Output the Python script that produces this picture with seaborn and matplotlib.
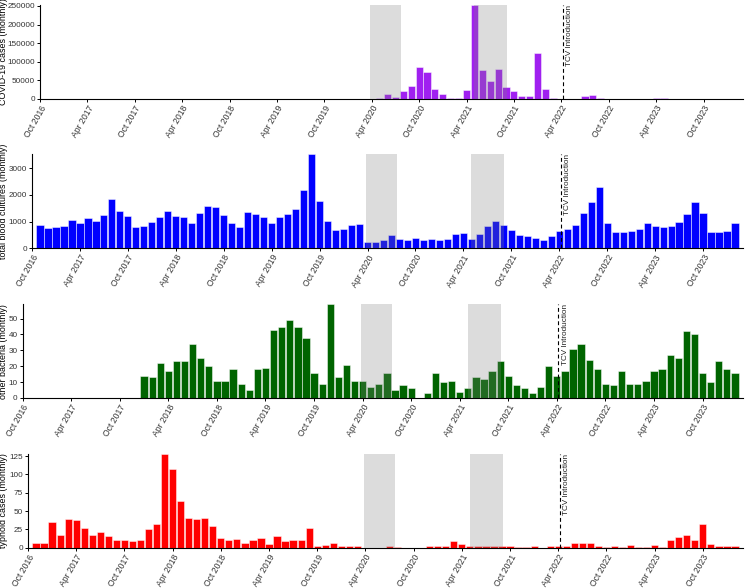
import numpy as np
import pandas as pd
import matplotlib
matplotlib.use("Agg")
import matplotlib.pyplot as plt
import seaborn as sns

# ---------------- data (monthly, Nov 2016 .. Feb 2024) ----------------
months = pd.date_range("2016-11-01", "2024-02-01", freq="MS")

covid = [0] * 41 + [
    50, 1500, 11700, 5400, 20700, 34000, 84500, 73000, 26000,
    12600, 2700, 2700, 23400, 254000, 76400, 46700, 79000, 31500, 20700, 8100, 6300,
    123000, 26000, 1000, 200, 100, 300, 6300, 10000, 2500, 300, 100, 100,
    100, 100, 300, 1200, 600, 200, 100, 100, 100, 100, 50, 50,
    50, 50]

blood = [
    870, 760, 780, 820, 1050, 930, 1140, 1020, 1230, 1830, 1380, 1200, 810, 820,
    980, 1170, 1410, 1210, 1190, 940, 1310, 1580, 1550, 1250, 950, 800,
    1350, 1270, 1170, 940, 1180, 1300, 1490, 2180, 3520, 1780, 1020, 680,
    720, 860, 900,
    250, 240, 300, 500, 360, 310, 375, 300, 350,
    300, 350, 525, 590, 360, 525, 840, 1010, 860, 675, 500, 460,
    390, 310, 475, 640, 710, 875, 1325, 1740, 2290, 960, 625, 600,
    660, 725, 940, 850, 800, 840, 990, 1290, 1750, 1340, 610, 610,
    660, 950]

other = [0] * 14 + [
    14, 13, 22, 17, 23, 23, 34, 25, 20, 11, 11, 18,
    9, 5, 18, 19, 43, 45, 49, 45, 38, 16, 9, 59,
    13, 21, 11,
    11, 7, 9, 16, 5, 8, 6, 0, 3,
    16, 10, 11, 4, 6, 13, 12, 17, 23, 14, 8, 6,
    3, 7, 20, 14, 17, 31, 34, 24, 18, 9, 8, 17,
    9, 9, 11, 17, 18, 27, 25, 42, 40, 16, 10, 23,
    18, 16]

typhoid = [
    6, 7, 35, 18, 39, 38, 27, 17, 22, 16, 10, 10, 9, 11,
    26, 32, 128, 108, 64, 40, 39, 40, 29, 13, 11, 12,
    7, 10, 13, 5, 16, 9, 11, 11, 27, 2, 4, 6,
    2, 2, 3,
    0, 0, 0, 2, 1, 0, 0, 0, 2,
    2, 2, 9, 5, 3, 2, 3, 2, 2, 2, 1, 1,
    2, 0, 3, 2, 2, 6, 7, 7, 3, 1, 3, 1,
    4, 1, 1, 4, 1, 10, 14, 17, 10, 32, 5, 3,
    2, 2]

tick_labels = ["Oct 2016", "Apr 2017", "Oct 2017", "Apr 2018", "Oct 2018",
               "Apr 2019", "Oct 2019", "Apr 2020", "Oct 2020", "Apr 2021",
               "Oct 2021", "Apr 2022", "Oct 2022", "Apr 2023", "Oct 2023"]

lockdowns = [("2020-03-25", "2020-07-22"), ("2021-05-01", "2021-09-04")]
tcv_date = "2022-04-07"

# ---------------- helpers ----------------
def month_pos(d):
    d = pd.Timestamp(d)
    return (d.year - 2016) * 12 + (d.month - 10) + (d.day - 1) / d.days_in_month

xm = [month_pos(d) for d in months]

sns.set_theme(style="ticks")
plt.rcParams["font.family"] = ["Liberation Sans", "DejaVu Sans"]

W, H = 745, 588
fig = plt.figure(figsize=(W / 100, H / 100), dpi=100)

panels = [
    # values, color, ylabel, left px, top px, bottom px, yticks
    (covid, "#A020F0", "COVID-19 cases (monthly)", 40, 4.5, 98.7,
     [0, 50000, 100000, 150000, 200000, 250000]),
    (blood, "#0000FF", "total blood cultures (monthly)", 32, 154.3, 248.3,
     [0, 1000, 2000, 3000]),
    (other, "#006400", "other bacteria (monthly)", 22.7, 304.3, 398,
     [0, 10, 20, 30, 40, 50]),
    (typhoid, "#FF0000", "typhoid cases (monthly)", 28, 454, 547.7,
     [0, 25, 50, 75, 100, 125]),
]

right_px = 743
for vals, col, ylab, lpx, tpx, bpx, yt in panels:
    ax = fig.add_axes([lpx / W, 1 - bpx / H, (right_px - lpx) / W, (bpx - tpx) / H])
    df = pd.DataFrame({"month": xm, "value": vals})
    sns.barplot(data=df, x="month", y="value", native_scale=True, color=col,
                saturation=1, width=0.9, errorbar=None,
                edgecolor=(1, 1, 1, 0.55), linewidth=0.6, ax=ax)
    ymax = max(vals)
    for a, b in lockdowns:
        ax.axvspan(month_pos(a), month_pos(b), color="0.5", alpha=0.27, lw=0, zorder=3)
    tx = month_pos(tcv_date)
    ax.axvline(tx, color="black", lw=0.8, ls=(0, (3.5, 2.5)), zorder=4)
    ax.text(tx + 0.45, ymax, "TCV Introduction", rotation=90, ha="left", va="top",
            fontsize=5.9, color="#222222", zorder=5)
    ax.set_xlim(0, 89)
    ax.set_ylim(0, ymax)
    ax.set_xticks(np.arange(0, 85, 6))
    ax.set_xticklabels(tick_labels, rotation=60, ha="right", va="top",
                       rotation_mode="anchor", fontsize=6.2, color="#333333")
    ax.set_yticks(yt)
    ax.set_yticklabels([str(v) for v in yt], fontsize=5.9, color="#333333")
    ax.tick_params(axis="both", length=2.2, width=0.7, pad=1.5, color="black")
    ax.set_xlabel("")
    ax.set_ylabel(ylab, fontsize=6.4, color="black")
    ax.yaxis.set_label_coords(8.3 / W, 1 - (tpx + bpx) / 2 / H, transform=fig.transFigure)
    for s in ("top", "right"):
        ax.spines[s].set_visible(False)
    for s in ("left", "bottom"):
        ax.spines[s].set_linewidth(0.8)
        ax.spines[s].set_color("black")
    ax.set_facecolor("white")

fig.savefig("out.png", dpi=100, facecolor="white")
